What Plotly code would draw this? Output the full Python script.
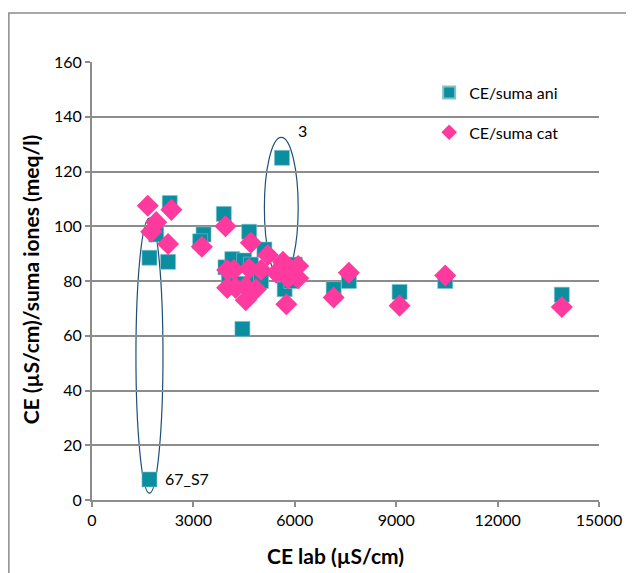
import plotly.graph_objects as go

# CE/suma ani (squares)
ani_x = [1700, 1700, 1900, 2300, 2250, 3300, 3200, 3900, 3950, 4050, 4150, 4300,
         4500, 4450, 4650, 4700, 4800, 5000, 5100, 5620, 5600, 5700, 5900, 6000,
         7150, 7600, 9100, 10450, 13900]
ani_y = [7.5, 88.5, 97, 108.5, 87, 97, 94.5, 104.5, 85, 82, 88, 79,
         87.5, 62.5, 98, 86, 81, 80, 91.5, 125, 84, 77, 80, 86,
         77, 80, 76, 80, 75]

# CE/suma cat (diamonds)
cat_x = [1650, 1750, 1900, 2350, 2250, 3250, 3950, 4700, 5200, 4000, 4200, 4650,
         5000, 4000, 4250, 4550, 4850, 4550, 5650, 6100, 5800, 6100, 5750, 5450,
         7150, 7600, 9100, 10450, 13900]
cat_y = [107.5, 98, 101.5, 106, 93.5, 92.5, 100, 94, 89.5, 84, 84, 84.5,
         84, 77.5, 77.5, 78, 77, 73, 87, 85.5, 81, 81, 71.5, 83,
         74, 83, 71, 82, 70.5]

x_ticks = [0, 3000, 6000, 9000, 12000, 15000]
x_labels = ["0", "3000", "6000", "9000", "12000", "15000"]
y_ticks = [0, 20, 40, 60, 80, 100, 120, 140, 160]
y_labels = ["0", "20", "40", "60", "80", "100", "120", "140", "160"]

FONT = "Lato"
TEAL = "#0B8E9F"
PINK = "#FF3A9E"
GRID = "#8C8C8C"

fig = go.Figure()
fig.add_trace(go.Scatter(x=ani_x, y=ani_y, mode="markers", name="CE/suma ani",
                         legendgroup="a",
                         marker=dict(symbol="square", size=15, color=TEAL,
                                     line=dict(width=0.6, color="#7FC4CC"))))
fig.add_trace(go.Scatter(x=cat_x, y=cat_y, mode="markers", name="CE/suma cat",
                         legendgroup="c",
                         marker=dict(symbol="diamond", size=17, color=PINK,
                                     line=dict(width=0))))

# ellipses around outliers
fig.add_shape(type="circle", xref="x", yref="y", x0=1300, x1=2100, y0=2.5, y1=103,
              line=dict(color="#1F4E79", width=1.2), layer="below")
fig.add_shape(type="circle", xref="x", yref="y", x0=5100, x1=6100, y0=81, y1=132.5,
              line=dict(color="#1F4E79", width=1.2), layer="below")

# outer chart border
fig.add_shape(type="rect", xref="paper", yref="paper", x0=-0.164, x1=1.12,
              y0=-0.25, y1=1.112, line=dict(color="#8C8C8C", width=1.5))

fig.add_annotation(x=6050, y=135, text="3", showarrow=False, xanchor="left",
                   font=dict(family=FONT, size=16, color="black"))
fig.add_annotation(x=2100, y=8, text="67_S7", showarrow=False, xanchor="left",
                   font=dict(family=FONT, size=16, color="black"))

# axis titles
fig.add_annotation(xref="paper", yref="paper", x=0.48, y=-0.126,
                   text="<b>CE lab (µS/cm)</b>", showarrow=False,
                   xanchor="center", yanchor="middle",
                   font=dict(family=FONT, size=21, color="black"))
fig.add_annotation(xref="paper", yref="paper", x=-0.122, y=0.502,
                   text="<b>CE (µS/cm)/suma iones (meq/l)</b>", showarrow=False,
                   textangle=-90, xanchor="center", yanchor="middle",
                   font=dict(family=FONT, size=21, color="black"))

# the page body has an 8px default margin, so the figure is 8px smaller
fig.update_layout(
    width=626, height=565,
    margin=dict(l=84, r=35, t=54, b=73, autoexpand=False),
    paper_bgcolor="white", plot_bgcolor="white",
    font=dict(family=FONT, size=16, color="black"),
    showlegend=True,
    legend=dict(x=0.665, y=0.969, xanchor="left", yanchor="top",
                bgcolor="rgba(0,0,0,0)", font=dict(family=FONT, size=16),
                itemsizing="constant", tracegroupgap=16, traceorder="grouped",
                itemwidth=30),
    xaxis=dict(range=[0, 15000], tickvals=x_ticks, ticktext=x_labels,
               showgrid=False, zeroline=False, automargin=False,
               showline=True, linecolor=GRID, linewidth=2, ticks="outside",
               tickcolor=GRID, ticklen=5, tickwidth=1.5),
    yaxis=dict(range=[0, 160], tickvals=y_ticks, ticktext=y_labels,
               showgrid=True, gridcolor=GRID, automargin=False,
               gridwidth=2, zeroline=False, showline=True, linecolor=GRID, linewidth=2,
               ticks="outside", tickcolor=GRID, ticklen=5, tickwidth=1.5),
)

fig.write_html("out.html")
